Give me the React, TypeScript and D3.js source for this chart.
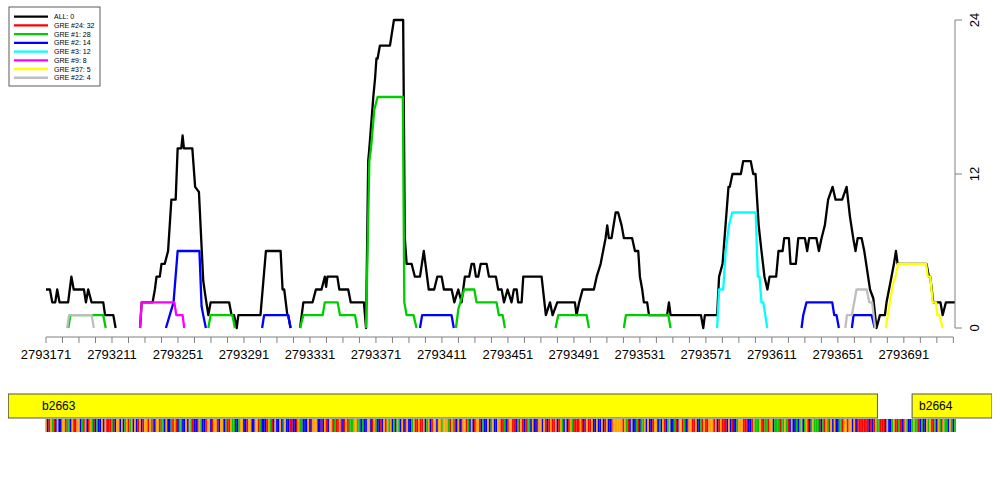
import { useMemo } from "react";
import * as d3 from "d3";

// genomic window (bp)
const START = 2793171;
const END = 2793722;

// legend
const legendLabels = ["ALL: 0", "GRE #24: 32", "GRE #1: 28", "GRE #2: 14", "GRE #3: 12", "GRE #9: 8", "GRE #37: 5", "GRE #22: 4"];
const legendColors = ["#000000", "#ff0000", "#00cd00", "#0000ff", "#00ffff", "#ff00ff", "#ffff00", "#bebebe"];

// each series: list of segments, each segment: [offset from START, count]
const allSeries: number[][][] = [
  [[0, 3], [2.4, 3], [3.8, 2], [5.6, 2], [6.8, 3], [8.2, 2], [13.4, 2], [14.4, 3], [15.4, 4], [16.8, 3], [23, 3], [24.2, 2], [25.6, 3], [27.6, 2], [34.7, 2], [35.8, 1], [40.8, 1], [42.2, 0]],
  [[57, 0], [58, 2], [64.6, 2], [66, 3], [67, 4], [69, 4], [70, 5], [72, 5], [74, 6], [76, 10], [78.6, 10], [79.8, 14], [82, 14], [82.8, 15], [83.6, 14], [88.7, 14], [90.4, 11], [92.7, 10.6], [95.3, 3.7], [96.6, 2.5], [98.4, 1], [99.8, 2], [111, 2], [112.5, 1], [114, 1], [115.6, 0], [116.6, 1], [130, 1], [133.3, 6], [142.2, 6], [143.4, 3], [144.4, 3], [146.3, 1], [146.8, 1], [148.2, 0]],
  [[154, 0], [156, 2], [161.6, 2], [163.6, 3], [167, 3], [169, 4], [169.8, 3.2], [170.6, 4], [176.6, 4], [177.8, 3], [183.2, 3], [184.7, 2], [192.7, 2], [194, 0], [195.3, 13], [196, 14], [198.4, 18], [199.5, 19.5], [200.3, 21], [201, 21], [202.4, 22], [208.5, 22], [210.9, 24], [216.5, 24], [217.5, 7], [218.6, 5], [221.6, 5], [223.6, 4], [226.7, 4], [229, 6], [232, 3], [235.3, 3], [237.2, 4], [239.8, 4], [241.2, 3], [245.9, 3], [247.5, 2], [249.9, 3], [251.9, 2], [253.9, 4], [256.5, 4], [258, 5], [259.4, 5], [260.6, 4], [262, 4], [263.5, 5], [267.1, 5], [268.5, 4], [272.7, 4], [274.1, 3], [276.2, 3], [277.6, 2], [279.8, 3], [282.2, 2], [283.6, 3], [285.3, 3], [286.2, 2], [288.3, 2], [289.3, 4], [300.4, 4], [303, 1], [305.5, 2], [307.1, 1], [309.9, 2], [320.6, 2], [321.6, 1], [323.2, 2], [325.3, 3], [332.1, 3], [333.8, 4], [336.2, 5], [339.2, 7], [340.2, 8], [341.2, 7], [342.8, 7], [345.3, 9], [346.8, 9], [348.9, 8], [350.3, 7], [355.3, 7], [357, 6], [359, 6], [360, 4], [361.4, 3], [362.4, 2], [364.4, 2], [365.5, 1], [376.5, 1], [377.6, 2], [378.6, 1], [397, 1], [398.4, 0], [399.4, 1], [406.8, 1], [408, 4], [410.1, 5], [413.7, 11], [414.5, 11], [416.1, 12], [421.2, 12], [422.6, 13], [427.2, 13], [428.7, 12], [430.1, 12], [432, 8], [433.7, 6], [435.5, 4], [437.3, 3], [438.6, 4], [442.6, 4], [444, 6], [446.5, 6], [447.5, 7], [450.3, 7], [451.3, 5], [454.5, 5], [456, 7], [460, 7], [461.4, 6], [462.6, 7], [467, 7], [468.5, 6], [470.1, 7], [472.1, 8], [474.1, 10], [476.8, 11], [478.6, 10], [482.6, 10], [485.3, 11], [487.3, 8.7], [489.3, 7], [490.7, 6], [492, 7], [494.4, 7], [496, 6], [499.5, 3], [501.5, 2.3], [503.4, 0], [505.5, 1], [508.5, 1], [509.5, 2], [512.5, 4], [514, 5], [515.2, 6], [516.2, 5], [533.7, 5], [535.2, 4], [536, 4], [537.8, 2], [542.2, 2], [543.5, 1], [545.5, 2], [551, 2]],
];
const gre24Series: number[][][] = [];
const gre1Series: number[][][] = [
  [[13.5, 0], [14.8, 1], [34.7, 1], [36.2, 0]],
  [[98.4, 0], [99.8, 1], [113, 1], [114.5, 0]],
  [[154, 0], [156, 1], [167.7, 1], [169, 2], [176.8, 2], [178.2, 1], [187.3, 1], [188.7, 0]],
  [[194, 0], [196, 13], [197, 14], [199, 17], [201, 18], [216.3, 18], [217.2, 2], [218.6, 1], [222.8, 1], [224.6, 0]],
  [[248.5, 0], [250, 1.5], [253.5, 3], [259.6, 3], [261, 2], [273.1, 2], [274.5, 1], [276.8, 1], [278.2, 0]],
  [[308.9, 0], [310.5, 1], [327.7, 1], [329.1, 0]],
  [[350.3, 0], [351.5, 1], [377.2, 1], [378.6, 0]],
];
const gre2Series: number[][][] = [
  [[72.7, 0], [77.3, 2], [79.8, 6], [93, 6], [94.3, 1.7], [95.3, 1], [96.9, 0]],
  [[131, 0], [132.2, 1], [146.8, 1], [148.3, 0]],
  [[226.7, 0], [228, 1], [245.8, 1], [247.2, 0]],
  [[458, 0], [459, 1], [461, 2], [476.6, 2], [477.8, 1], [479.2, 1], [480.6, 0]],
  [[488.5, 0], [489.5, 1], [500.5, 1], [502.3, 0]],
];
const gre3Series: number[][][] = [
  [[406.8, 0], [408, 3], [410.5, 3], [412, 6], [414, 8], [416, 9], [430.2, 9], [431.5, 4], [432.5, 4], [433.7, 2], [434.8, 2], [437.2, 0]],
];
const gre9Series: number[][][] = [
  [[57, 0], [58, 2], [77.8, 2], [79, 1], [82.8, 1], [83.8, 0]],
];
const gre37Series: number[][][] = [
  [[509, 0], [511.5, 2], [513.5, 3.5], [515, 4], [516.5, 5], [533.5, 5], [534.5, 4], [536, 4], [537.5, 2], [539.5, 2], [540.2, 1], [541.5, 1], [543.5, 0]],
];
const gre22Series: number[][][] = [
  [[12.8, 0], [14, 1], [27.7, 1], [29, 0]],
  [[484.5, 0], [485.5, 1], [488.5, 1], [491.3, 3], [497.5, 3], [499, 2], [500.8, 2], [502.6, 0]],
];
const seriesList = [allSeries, gre24Series, gre1Series, gre2Series, gre3Series, gre9Series, gre37Series, gre22Series];

// axes
const yTicks = [0, 12, 24];
const xTickStep = 10;
const xLabelStep = 40;

// genes
const geneNames = ["b2663", "b2664"];
const geneStarts = [2793148, 2793696];
const geneEnds = [2793675, 2793745];

// sequence under the window
const sequence =
  "GCTGATCGCCGGTAACGTTGGCATGCTGATCACCGCGTTTATCGGCGCAGTAGCGCTGCTGGTGATCGGTAACGCCATGTCAACCGCGATCCTGACCTGGCTGGTCGGCATTGAACCAGGCCTGGCCGGTACCCTGATCGCCGCAGCCTTCCTGAACCCGCTGGGCCTCGTCGGTATTGTCTGTAAAGGAACACCGGCTGACCTCGTGAGCACGACGCTGCCAGTTGTTGCAGCTGGCGGAGGGATGATCGCTGGTACGCTGGTCACCGCAGCCGGTTACTGGTTCATGTCTAACGCCTGGCGTCTGTTGCTGACGCTGATTTTGTCTGTTGCCGCCGCTGCCTGGGGGGTGATCGCCATCAAGCGCCTGGCACGTCAGCCATCGGTACTGGTTGCCATGTTGGGTGCTGTTTCGCTCCAGGGTTTCCTGAAAGTTAATGGCAAATAAGATCGCCACAGCAGTCAGAAATCATGATGCGCCAATGGTGGCGCTTTTTTTCTCTGAATTTCGCCAGTTATCTGACCAGAATCACCGAGTTACGATGAACGACA";
const baseColors: Record<string, string> = { A: "#00c800", C: "#0000ff", G: "#ffa500", T: "#ff0000" };

export default function App() {
  const width = 1000;
  const height = 500;

  const xScale = useMemo(() => d3.scaleLinear().domain([START, END]).range([46, 955]), []);
  const yScale = useMemo(() => d3.scaleLinear().domain([0, 24]).range([328, 20]), []);

  const line = d3
    .line<number[]>()
    .x((d) => xScale(START + d[0]))
    .y((d) => yScale(d[1]));

  const xTicks = d3.range(START, END, xTickStep);
  const bpW = xScale(START + 1) - xScale(START);
  const font = "'Liberation Sans', Arial, sans-serif";
  const axisCol = "#808080";

  return (
    <div style={{ position: "absolute", left: 0, top: 0 }}>
      <svg width={width} height={height} style={{ display: "block", background: "#fff" }}>
        <defs>
          <clipPath id="fig">
            <rect x={8} y={0} width={984} height={height} />
          </clipPath>
        </defs>

        {/* count lines */}
        {seriesList.map((s, si) =>
          s.map((seg, k) => (
            <path
              key={`${si}-${k}`}
              d={line(seg) || ""}
              fill="none"
              stroke={legendColors[si]}
              strokeWidth={2.3}
              strokeLinejoin="round"
            />
          ))
        )}

        {/* x axis */}
        <line x1={xScale(START)} x2={xScale(xTicks[xTicks.length - 1])} y1={337} y2={337} stroke={axisCol} />
        {xTicks.map((t) => (
          <line key={t} x1={xScale(t)} x2={xScale(t)} y1={337} y2={343} stroke={axisCol} />
        ))}
        {xTicks
          .filter((t) => (t - START) % xLabelStep === 0)
          .map((t) => (
            <text key={t} x={xScale(t)} y={359} textAnchor="middle" fontFamily={font} fontSize={13}>
              {t}
            </text>
          ))}

        {/* y axis, right side */}
        <line x1={955} x2={955} y1={yScale(0)} y2={yScale(24)} stroke={axisCol} />
        {yTicks.map((t) => (
          <g key={t}>
            <line x1={955} x2={962} y1={yScale(t)} y2={yScale(t)} stroke={axisCol} />
            <text
              transform={`translate(979,${yScale(t)}) rotate(-90)`}
              textAnchor="middle"
              fontFamily={font}
              fontSize={13}
            >
              {t}
            </text>
          </g>
        ))}

        {/* legend */}
        <rect x={9} y={7} width={91} height={79} fill="#fff" stroke="#333" strokeWidth={0.8} />
        {legendLabels.map((l, i) => (
          <g key={l}>
            <line x1={14} x2={48} y1={16.7 + i * 8.72} y2={16.7 + i * 8.72} stroke={legendColors[i]} strokeWidth={2.3} />
            <text x={54} y={16.7 + i * 8.72} dominantBaseline="central" fontFamily={font} fontSize={7}>
              {l}
            </text>
          </g>
        ))}

        {/* genes */}
        <g clipPath="url(#fig)">
          {geneNames.map((g, i) => (
            <g key={g}>
              <rect
                x={xScale(geneStarts[i])}
                y={394}
                width={xScale(geneEnds[i]) - xScale(geneStarts[i])}
                height={24}
                fill="#ffff00"
                stroke="#555"
                strokeWidth={1}
              />
            </g>
          ))}
        </g>
        <rect x={8} y={394} width={0.5} height={24} fill="#555" />
        <rect x={991.5} y={394} width={0.5} height={24} fill="#555" />
        {geneNames.map((g, i) => (
          <text key={g} x={Math.max(8, xScale(geneStarts[i])) + (i === 0 ? 34 : 7)} y={410} fontFamily={font} fontSize={12}>
            {g}
          </text>
        ))}

        {/* sequence strip */}
        {sequence.split("").map((b, i) => (
          <rect
            key={i}
            x={xScale(START + i) - bpW / 2}
            y={419}
            width={bpW + 0.1}
            height={13}
            fill={baseColors[b]}
          />
        ))}
      </svg>
    </div>
  );
}
